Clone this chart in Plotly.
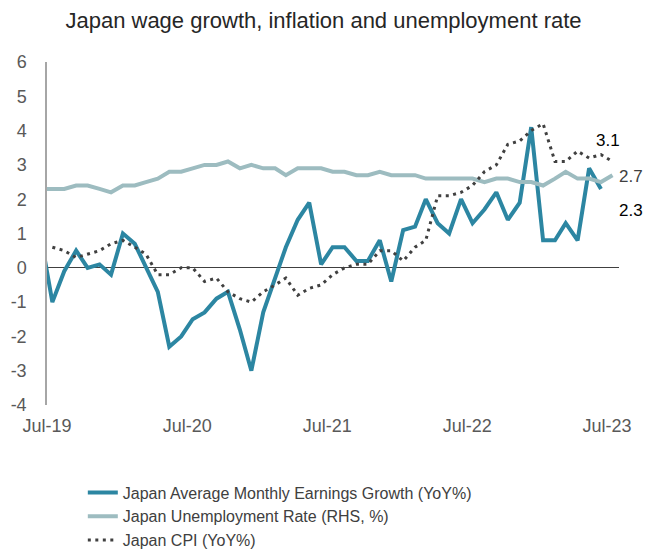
import pandas as pd
import plotly.graph_objects as go

# Monthly data (mid-month), Jun-19 .. Jul-23
months_all = pd.date_range("2019-06-01", "2023-07-01", freq="MS") + pd.Timedelta(days=14)

# Japan Average Monthly Earnings Growth (YoY%), Jun-19 .. Jun-23
earnings = [0.9,
            -1.0, -0.1, 0.5, 0.0, 0.1, -0.2,
            1.0, 0.7, 0.0, -0.7, -2.3, -2.0, -1.5, -1.3, -0.9, -0.7, -1.8, -3.0,
            -1.3, -0.3, 0.6, 1.4, 1.9, 0.1, 0.6, 0.6, 0.2, 0.2, 0.8, -0.4,
            1.1, 1.2, 2.0, 1.3, 1.0, 2.0, 1.3, 1.7, 2.2, 1.4, 1.9, 4.1,
            0.8, 0.8, 1.3, 0.8, 2.9, 2.3]

# Japan Unemployment Rate (RHS, %), Jun-19 .. Jul-23
unemployment = [2.3,
                2.3, 2.3, 2.4, 2.4, 2.3, 2.2,
                2.4, 2.4, 2.5, 2.6, 2.8, 2.8, 2.9, 3.0, 3.0, 3.1, 2.9, 3.0,
                2.9, 2.9, 2.7, 2.9, 2.9, 2.9, 2.8, 2.8, 2.7, 2.7, 2.8, 2.7,
                2.7, 2.7, 2.6, 2.6, 2.6, 2.6, 2.6, 2.5, 2.6, 2.6, 2.5, 2.5,
                2.4, 2.6, 2.8, 2.6, 2.6, 2.5, 2.7]

# Japan CPI (YoY%), Jul-19 .. Jul-23
cpi = [0.6, 0.5, 0.3, 0.4, 0.5, 0.7,
       0.8, 0.6, 0.4, -0.2, -0.2, 0.0, 0.0, -0.4, -0.3, -0.7, -0.9, -1.0,
       -0.7, -0.5, -0.3, -0.8, -0.6, -0.5, -0.2, 0.0, 0.1, 0.1, 0.5, 0.5,
       0.2, 0.6, 0.8, 2.1, 2.1, 2.2, 2.4, 2.8, 3.0, 3.6, 3.7, 4.0,
       4.2, 3.1, 3.1, 3.4, 3.2, 3.3, 3.1]

x_earn = months_all[:len(earnings)]
x_unemp = months_all[:len(unemployment)]
x_cpi = months_all[1:1 + len(cpi)]

tick_dates = pd.to_datetime(["2019-07-01", "2020-07-01", "2021-07-01", "2022-07-01", "2023-07-01"])
tick_labels = ["Jul-19", "Jul-20", "Jul-21", "Jul-22", "Jul-23"]
y_ticks = [-4, -3, -2, -1, 0, 1, 2, 3, 4, 5, 6]
y_tick_labels = ["-4", "-3", "-2", "-1", "0", "1", "2", "3", "4", "5", "6"]

C_EARN = "#2C86A2"
C_UNEMP = "#9DBCC0"
C_CPI = "#404040"
FONT = "Liberation Sans, Arial, sans-serif"

fig = go.Figure()
fig.add_trace(go.Scatter(x=x_earn, y=earnings, mode="lines",
                         name="Japan Average Monthly Earnings Growth (YoY%)",
                         line=dict(color=C_EARN, width=4), legendgroup="a"))
fig.add_trace(go.Scatter(x=x_unemp, y=unemployment, mode="lines",
                         name="Japan Unemployment Rate (RHS, %)",
                         line=dict(color=C_UNEMP, width=4), legendgroup="b"))
fig.add_trace(go.Scatter(x=x_cpi, y=cpi, mode="lines",
                         name="Japan CPI (YoY%)",
                         line=dict(color=C_CPI, width=3, dash="3px,4.5px"), legendgroup="c"))

# end-of-series data labels
fig.add_annotation(x=x_cpi[-1], y=cpi[-1], text=f"{cpi[-1]:.1f}", showarrow=False,
                   xanchor="center", yanchor="middle", xshift=-4, yshift=21,
                   font=dict(size=17, color="#000000", family=FONT))
fig.add_annotation(x=x_unemp[-1], y=unemployment[-1], text=f"{unemployment[-1]:.1f}", showarrow=False,
                   xanchor="left", yanchor="middle", xshift=5, yshift=-1,
                   font=dict(size=17, color="#404040", family=FONT))
fig.add_annotation(x=x_earn[-1], y=earnings[-1], text=f"{earnings[-1]:.1f}", showarrow=False,
                   xanchor="left", yanchor="middle", xshift=16, yshift=-22,
                   font=dict(size=17, color="#000000", family=FONT))

fig.update_layout(
    width=647, height=551,
    margin=dict(l=47, r=28, t=62, b=146, autoexpand=False),
    paper_bgcolor="white", plot_bgcolor="white",
    font=dict(family=FONT, size=18, color="#595959"),
    title=dict(text="Japan wage growth, inflation and unemployment rate",
               x=0.5, xanchor="center", y=0.963, yanchor="middle",
               font=dict(size=22, color="#262626", family=FONT)),
    showlegend=True,
    legend=dict(orientation="v", xref="container", yref="container",
                x=0.128, xanchor="left", y=0.137, yanchor="top",
                font=dict(size=16, color="#404040", family=FONT),
                tracegroupgap=0, bgcolor="rgba(0,0,0,0)"),
    xaxis=dict(type="date", range=["2019-07-01", "2023-08-01"], automargin=False,
               tickmode="array", tickvals=tick_dates, ticktext=tick_labels,
               showgrid=False, showline=False, zeroline=False, ticks="",
               ticklabelstandoff=8,
               tickfont=dict(size=18, color="#595959")),
    yaxis=dict(range=[-4, 6], showgrid=False, automargin=False,
               tickmode="array", tickvals=y_ticks, ticktext=y_tick_labels,
               showline=True, linecolor="#A6A6A6", linewidth=1.5,
               zeroline=True, zerolinecolor="#404040", zerolinewidth=1,
               ticks="", ticklabelstandoff=15,
               tickfont=dict(size=18, color="#595959")),
)

fig.write_html("out.html", config={"displayModeBar": False},
               post_script="document.body.style.margin='0px';")
